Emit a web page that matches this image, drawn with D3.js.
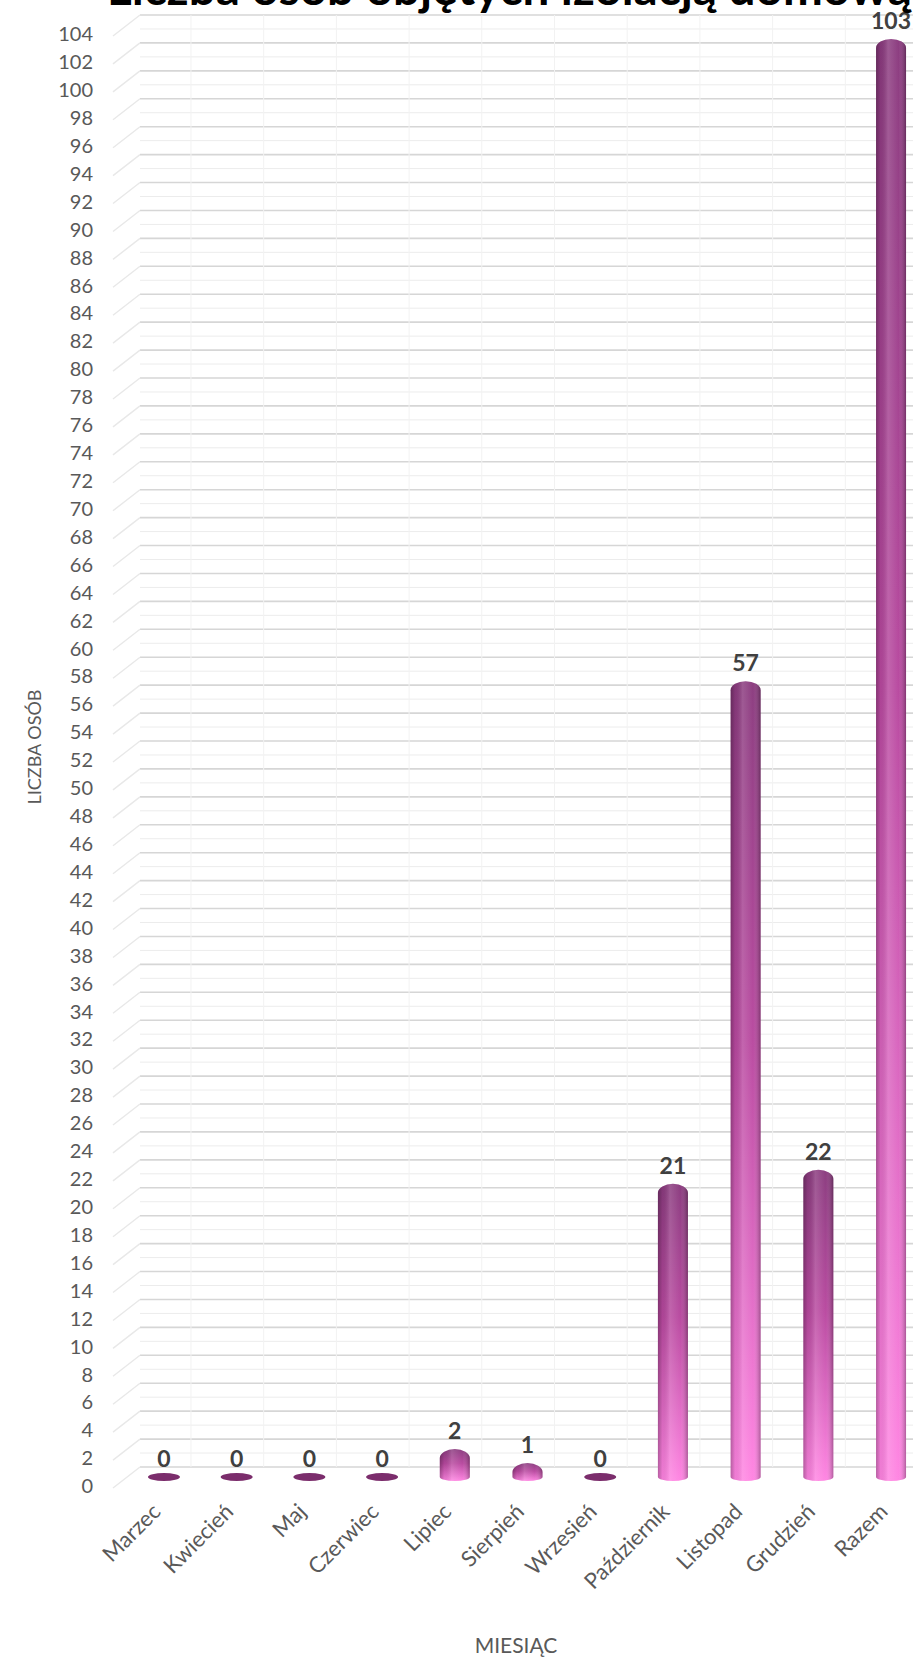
<!DOCTYPE html>
<html>
<head>
<meta charset="utf-8">
<script src="https://cdn.jsdelivr.net/npm/d3@7"></script>
<style>
  html, body { margin: 0; padding: 0; background: #ffffff; }
  svg { display: block; }
</style>
</head>
<body>
<script>
// ---- data ----
const title = "Liczba osób objętych izolacją domową";
const categories = ["Marzec","Kwiecień","Maj","Czerwiec","Lipiec","Sierpień","Wrzesień","Październik","Listopad","Grudzień","Razem"];
const values = [0,0,0,0,2,1,0,21,57,22,103];
const yTickValues = d3.range(0, 105, 2);
const yMinorValues = d3.range(1, 104, 2);
const yAxisTitle = "LICZBA OSÓB";
const xAxisTitle = "MIESIĄC";

// ---- layout ----
const W = 913, H = 1660;
const FONT = "Lato, 'Open Sans', sans-serif";
const svg = d3.select("body").append("svg").attr("width", W).attr("height", H);

const x = d3.scaleBand().domain(categories).range([127.6, 927.4]).padding(0);
const yBar = d3.scaleLinear().domain([0, 104]).range([1477, 25]);
const yLabel = d3.scaleLinear().domain([0, 104]).range([1486, 34]);
const yGrid = d3.scaleLinear().domain([0, 104]).range([1467, 15]);
const wallLeft = 140, sideLeft = 113;
const barW = 30;

const defs = svg.append("defs");
const vg = defs.append("linearGradient").attr("id", "barV").attr("x1", 0).attr("y1", 0).attr("x2", 0).attr("y2", 1);
vg.append("stop").attr("offset", "0%").attr("stop-color", "#8a3a7e");
vg.append("stop").attr("offset", "45%").attr("stop-color", "#b8489f");
vg.append("stop").attr("offset", "100%").attr("stop-color", "#ff84e2");
const hg = defs.append("linearGradient").attr("id", "barH").attr("x1", 0).attr("y1", 0).attr("x2", 1).attr("y2", 0);
hg.append("stop").attr("offset", "0%").attr("stop-color", "#000").attr("stop-opacity", 0.28);
hg.append("stop").attr("offset", "15%").attr("stop-color", "#000").attr("stop-opacity", 0.06);
hg.append("stop").attr("offset", "40%").attr("stop-color", "#fff").attr("stop-opacity", 0.16);
hg.append("stop").attr("offset", "75%").attr("stop-color", "#fff").attr("stop-opacity", 0.02);
hg.append("stop").attr("offset", "100%").attr("stop-color", "#000").attr("stop-opacity", 0.3);

// ---- walls / gridlines ----
const grid = svg.append("g");
grid.selectAll("line.minor").data(yMinorValues).join("line")
  .attr("x1", wallLeft).attr("x2", W)
  .attr("y1", d => yGrid(d)).attr("y2", d => yGrid(d))
  .attr("stroke", "#ececec").attr("stroke-width", 1);
grid.selectAll("line.major").data(yTickValues).join("line")
  .attr("x1", wallLeft).attr("x2", W)
  .attr("y1", d => yGrid(d)).attr("y2", d => yGrid(d))
  .attr("stroke", "#d6d6d6").attr("stroke-width", 1.6);
// side wall diagonals
grid.selectAll("line.side").data(yTickValues).join("line")
  .attr("x1", sideLeft).attr("x2", wallLeft)
  .attr("y1", d => yLabel(d) + 2).attr("y2", d => yGrid(d))
  .attr("stroke", "#e8e8e8").attr("stroke-width", 1.4);
// faint vertical lines on back wall
grid.selectAll("line.vert").data(categories).join("line")
  .attr("x1", d => x(d) + x.bandwidth() / 2 + 27).attr("x2", d => x(d) + x.bandwidth() / 2 + 27)
  .attr("y1", yGrid(104)).attr("y2", yGrid(0))
  .attr("stroke", "#f2f2f2").attr("stroke-width", 1);

// ---- y tick labels ----
svg.append("g").selectAll("text").data(yTickValues).join("text")
  .attr("x", 93).attr("y", d => yLabel(d)).attr("dy", "0.36em")
  .attr("text-anchor", "end")
  .attr("font-family", FONT).attr("font-size", 20).attr("fill", "#595959")
  .text(d => d);

// ---- bars ----
function barPath(v, c) {
  const cx = x(c) + x.bandwidth() / 2;
  const x0 = cx - barW / 2, x1 = cx + barW / 2, r = barW / 2;
  const yb = yBar(0), yt = yBar(v);
  const capRy = Math.min(9, yb - yt), botRy = 4;
  return `M${x0},${yb} L${x0},${yt + capRy} A${r},${capRy} 0 0 1 ${x1},${yt + capRy} L${x1},${yb} A${r},${botRy} 0 0 1 ${x0},${yb} Z`;
}
const data = categories.map((c, i) => ({ c, v: values[i] }));
const bars = svg.append("g");
bars.selectAll("path.base").data(data.filter(d => d.v > 0)).join("path")
  .attr("d", d => barPath(d.v, d.c)).attr("fill", "url(#barV)");
bars.selectAll("path.shade").data(data.filter(d => d.v > 0)).join("path")
  .attr("d", d => barPath(d.v, d.c)).attr("fill", "url(#barH)");
bars.selectAll("ellipse").data(data.filter(d => d.v === 0)).join("ellipse")
  .attr("cx", d => x(d.c) + x.bandwidth() / 2).attr("cy", yBar(0))
  .attr("rx", 16).attr("ry", 4).attr("fill", "#7b2d6c");

// ---- data labels ----
svg.append("g").selectAll("text").data(data).join("text")
  .attr("x", d => x(d.c) + x.bandwidth() / 2).attr("y", d => yBar(d.v) - 10)
  .attr("text-anchor", "middle")
  .attr("font-family", FONT).attr("font-size", 23).attr("font-weight", 700).attr("fill", "#404040")
  .text(d => d.v);

// ---- x labels ----
svg.append("g").selectAll("text").data(categories).join("text")
  .attr("transform", d => `translate(${x(d) + x.bandwidth() / 2 - 2},${1513}) rotate(-45)`)
  .attr("text-anchor", "end")
  .attr("font-family", FONT).attr("font-size", 22).attr("fill", "#595959")
  .text(d => d);

// ---- axis titles ----
svg.append("text")
  .attr("transform", `translate(41,747) rotate(-90)`)
  .attr("text-anchor", "middle")
  .attr("font-family", FONT).attr("font-size", 18).attr("fill", "#595959")
  .text(yAxisTitle);
svg.append("text")
  .attr("x", 516).attr("y", 1653)
  .attr("text-anchor", "middle")
  .attr("font-family", FONT).attr("font-size", 21).attr("fill", "#595959")
  .text(xAxisTitle);

// ---- title (cut off at top, as in the reference) ----
const t = svg.append("text")
  .attr("x", 107).attr("y", 5)
  .attr("font-family", FONT).attr("font-size", 40).attr("font-weight", 700).attr("fill", "#000")
  .text(title);
const len = t.node().getComputedTextLength();
t.attr("font-size", 40 * 805 / len);
</script>
</body>
</html>
